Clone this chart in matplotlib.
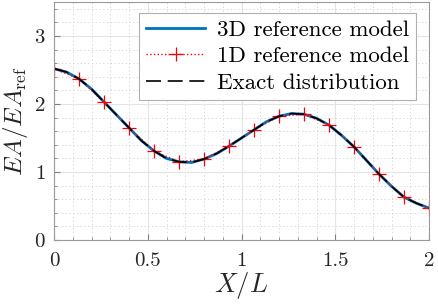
import numpy as np
import matplotlib
matplotlib.use("Agg")
import matplotlib.pyplot as plt
from matplotlib.ticker import MultipleLocator

plt.rcParams['font.family'] = 'serif'
plt.rcParams['font.serif'] = ['cmr10']
plt.rcParams['mathtext.fontset'] = 'cm'
plt.rcParams['axes.formatter.use_mathtext'] = True

# nodes of the 1D model
x_nodes = [0.0, 0.1333, 0.2667, 0.4, 0.5333, 0.6667, 0.8, 0.9333,
           1.0667, 1.2, 1.3333, 1.4667, 1.6, 1.7333, 1.8667, 2.0]
ea_1d = [2.52, 2.37, 2.03, 1.65, 1.31, 1.15, 1.19, 1.38,
         1.62, 1.82, 1.85, 1.69, 1.37, 0.97, 0.63, 0.47]

# curve (3D model / exact distribution)
x_curve = [0.0, 0.0667, 0.1333, 0.2, 0.2667, 0.3333, 0.4, 0.4667, 0.5333,
           0.6, 0.6667, 0.7333, 0.8, 0.8667, 0.9333, 1.0, 1.0667, 1.1333,
           1.2, 1.2667, 1.3333, 1.4, 1.4667, 1.5333, 1.6, 1.6667, 1.7333,
           1.8, 1.8667, 1.9333, 2.0]
ea_curve = [2.52, 2.47, 2.37, 2.22, 2.03, 1.84, 1.65, 1.46, 1.31,
            1.20, 1.15, 1.14, 1.19, 1.27, 1.38, 1.50, 1.62, 1.74,
            1.82, 1.86, 1.85, 1.79, 1.69, 1.54, 1.37, 1.17, 0.97,
            0.79, 0.63, 0.54, 0.47]

fig = plt.figure(figsize=(4.38, 3.07), dpi=100)
ax = fig.add_axes([0.1233, 0.2182, 0.8562, 0.7753])

ax.plot(x_curve, ea_curve, '-', color='#0072BD', lw=2.0, label='3D reference model')
ax.plot(x_nodes, ea_1d, ':', color='red', lw=1.0, marker='+', ms=9.5, mew=0.9,
        label='1D reference model')
ax.plot(x_curve, ea_curve, '--', color='black', lw=1.2, dashes=(9, 4),
        label='Exact distribution')

ax.set_xlim(0, 2)
ax.set_ylim(0, 3.5)
ax.set_xticks([0, 0.5, 1, 1.5, 2])
ax.set_xticklabels(['0', '0.5', '1', '1.5', '2'])
ax.set_yticks([0, 1, 2, 3])
ax.xaxis.set_minor_locator(MultipleLocator(0.1))
ax.yaxis.set_minor_locator(MultipleLocator(0.2))
ax.grid(which='major', color='#e4e4e4', lw=0.8)
ax.grid(which='minor', color='#d0d0d0', lw=0.6, linestyle=(0, (1.5, 3)))
ax.set_axisbelow(True)
ax.tick_params(which='both', direction='in', colors='#808080', labelcolor='#262626',
               labelsize=15)
ax.tick_params(which='major', length=4)
ax.tick_params(which='minor', length=2)
ax.tick_params(axis='x', pad=9)
ax.tick_params(axis='y', pad=6)
for s in ax.spines.values():
    s.set_color('#9a9a9a')

ax.set_xlabel('$X/L$', fontsize=19, color='#262626', labelpad=0)
ax.set_ylabel(r'$EA/EA_{\mathrm{ref}}$', fontsize=18, color='#262626', labelpad=3)

leg = ax.legend(loc='upper right', fontsize=16.5, fancybox=False, framealpha=1,
                edgecolor='#b0b0b0', handlelength=2.6, handletextpad=0.5,
                borderpad=0.3, labelspacing=0.28, borderaxespad=0,
                bbox_to_anchor=(0.965, 0.954))
leg.get_frame().set_linewidth(0.8)

fig.savefig('out.png', dpi=100)
